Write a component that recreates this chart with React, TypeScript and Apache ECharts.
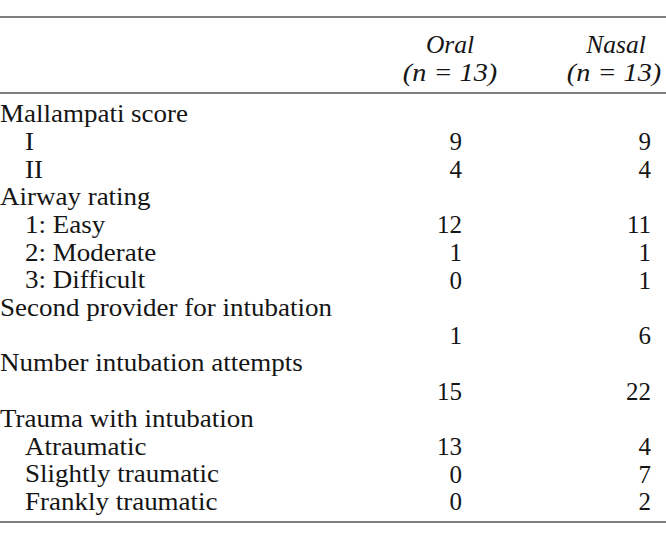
import React, { useEffect, useRef } from "react";
import * as echarts from "echarts";

const rowLabels = [
  "Mallampati score",
  "I",
  "II",
  "Airway rating",
  "1: Easy",
  "2: Moderate",
  "3: Difficult",
  "Second provider for intubation",
  "",
  "Number intubation attempts",
  "",
  "Trauma with intubation",
  "Atraumatic",
  "Slightly traumatic",
  "Frankly traumatic",
];
const rowIndent = [0, 1, 1, 0, 1, 1, 1, 0, 0, 0, 0, 0, 1, 1, 1];
const oralValues: (number | null)[] = [null, 9, 4, null, 12, 1, 0, null, 1, null, 15, null, 13, 0, 0];
const nasalValues: (number | null)[] = [null, 9, 4, null, 11, 1, 1, null, 6, null, 22, null, 4, 7, 2];
const columnHeaders = ["Oral", "Nasal"];
const columnSubheaders = ["(n = 13)", "(n = 13)"];

const FONT = "'Liberation Serif', 'Times New Roman', serif";
const TEXT_COLOR = "#151515";
const LINE_COLOR = "#555";

export default function App() {
  const ref = useRef<HTMLDivElement>(null);
  useEffect(() => {
    if (!ref.current) return;
    const chart = echarts.init(ref.current, null, { renderer: "svg" });
    const W = 666;
    const firstRowY = 114;
    const rowStep = 27.7;
    const valueRight = [462, 651];
    const headerCenter = [450, 616];
    const subCenter = [450, 614];
    const elements: any[] = [];
    const line = (y: number) => ({
      type: "line",
      shape: { x1: 0, y1: y, x2: W, y2: y },
      style: { stroke: LINE_COLOR, lineWidth: 1.5 },
    });
    elements.push(line(17), line(93), line(522));
    columnHeaders.forEach((h, i) => {
      elements.push({
        type: "text",
        x: headerCenter[i],
        y: 44,
        scaleX: 1.02,
        style: {
          text: h,
          font: `italic 25px ${FONT}`,
          fill: TEXT_COLOR,
          align: "center",
          verticalAlign: "middle",
        },
      });
      elements.push({
        type: "text",
        x: subCenter[i],
        y: 73,
        scaleX: 1.13,
        style: {
          text: columnSubheaders[i],
          font: `italic 25px ${FONT}`,
          fill: TEXT_COLOR,
          align: "center",
          verticalAlign: "middle",
        },
      });
    });
    rowLabels.forEach((lab, i) => {
      const y = firstRowY + i * rowStep;
      if (lab) {
        elements.push({
          type: "text",
          x: rowIndent[i] ? 25 : 0,
          y,
          scaleX: 1.08,
          style: {
            text: lab,
            font: `25px ${FONT}`,
            fill: TEXT_COLOR,
            align: "left",
            verticalAlign: "middle",
          },
        });
      }
      [oralValues[i], nasalValues[i]].forEach((v, c) => {
        if (v === null || v === undefined) return;
        elements.push({
          type: "text",
          x: valueRight[c],
          y,
          style: {
            text: String(v),
            font: `25px ${FONT}`,
            fill: TEXT_COLOR,
            align: "right",
            verticalAlign: "middle",
          },
        });
      });
    });
    chart.setOption({
      animation: false,
      backgroundColor: "#fff",
      graphic: { elements },
    });
    return () => chart.dispose();
  }, []);
  return (
    <div
      ref={ref}
      style={{ position: "absolute", left: 0, top: 0, width: 666, height: 558 }}
    />
  );
}
